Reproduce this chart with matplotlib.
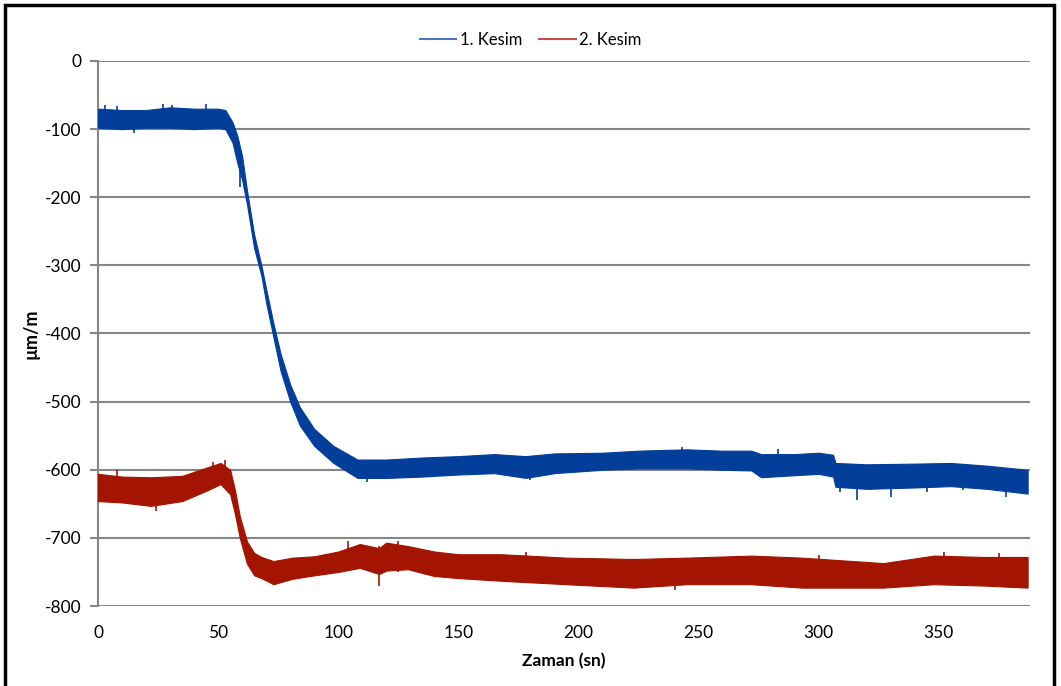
import matplotlib
matplotlib.use("Agg")
import matplotlib.pyplot as plt
from matplotlib.lines import Line2D
from matplotlib.patches import Rectangle

plt.rcParams['font.family'] = ['Lato', 'DejaVu Sans']
plt.rcParams['axes.unicode_minus'] = False

# series 1 (1. Kesim): time and upper/lower edges of the noisy band
t1 = [0, 10, 20, 30, 40, 50, 53, 56, 58, 60, 62, 65, 68, 70, 73, 76, 80, 84, 90, 98,
      108, 120, 135, 150, 165, 178, 190, 210, 225, 245, 260, 272, 276, 290, 300, 306,
      307, 320, 340, 355, 370, 387]
hi1 = [-70, -72, -72, -68, -70, -70, -72, -90, -110, -140, -190, -255, -300, -335, -385,
       -430, -475, -508, -540, -565, -585, -585, -582, -580, -577, -580, -576, -575, -572,
       -570, -572, -572, -577, -577, -575, -578, -590, -592, -591, -590, -594, -600]
lo1 = [-98, -100, -98, -98, -100, -98, -100, -120, -150, -175, -210, -275, -315, -355, -405,
       -455, -500, -535, -565, -590, -612, -612, -610, -607, -605, -612, -605, -600, -598,
       -598, -600, -601, -611, -608, -606, -610, -625, -628, -626, -624, -628, -635]

# series 2 (2. Kesim)
t2 = [0, 10, 22, 35, 45, 51, 55, 57, 59, 62, 65, 68, 73, 81, 90, 100, 109, 117, 120, 129,
      140, 150, 168, 195, 223, 245, 272, 293, 327, 348, 369, 387]
hi2 = [-606, -610, -611, -609, -597, -590, -600, -630, -668, -705, -722, -728, -734, -729,
       -727, -720, -709, -715, -707, -712, -720, -724, -724, -729, -731, -729, -726, -729,
       -737, -726, -728, -728]
lo2 = [-646, -648, -653, -646, -631, -621, -636, -665, -700, -738, -755, -759, -768, -760,
       -755, -750, -744, -753, -748, -746, -756, -759, -763, -768, -773, -768, -768, -773,
       -773, -768, -770, -773]

# single spikes that stick out of the band
spike_t1 = [3, 8, 15, 27, 31, 45, 59, 100, 112, 180, 243, 283, 309, 316, 322, 330, 345, 360, 378]
spike_top1 = [-64, -66, -92, -63, -64, -63, -150, -570, -600, -598, -566, -570, -600, -600,
              -600, -600, -610, -612, -615]
spike_bot1 = [-80, -80, -105, -80, -80, -80, -185, -585, -618, -615, -585, -585, -632, -645,
              -630, -640, -632, -630, -640]
spike_t2 = [8, 24, 48, 53, 104, 117, 125, 178, 240, 300, 318, 352, 375]
spike_top2 = [-600, -620, -588, -585, -705, -712, -704, -720, -740, -725, -745, -720, -722]
spike_bot2 = [-615, -660, -600, -600, -740, -770, -750, -745, -776, -745, -770, -740, -740]

labels = ["1. Kesim", "2. Kesim"]
blue = "#023e9a"
red = "#a31500"

fig = plt.figure(figsize=(10.61, 6.86), dpi=100)
ax = fig.add_axes([0.0924, 0.1166, 0.8784, 0.7945])

ax.fill_between(t1, lo1, hi1, color=blue, lw=0.8, edgecolor=blue, zorder=3)
ax.fill_between(t2, lo2, hi2, color=red, lw=0.8, edgecolor=red, zorder=3)
ax.vlines(spike_t1, spike_bot1, spike_top1, color=blue, lw=1.2, zorder=3)
ax.vlines(spike_t2, spike_bot2, spike_top2, color=red, lw=1.2, zorder=3)

ax.set_xlim(0, 388)
ax.set_ylim(-800, 0)
ax.set_xticks(range(0, 351, 50))
ax.set_yticks(range(-800, 1, 100))
ax.yaxis.grid(True, color="#868686", lw=1.5)
ax.set_axisbelow(True)
for s in ["top", "right", "bottom"]:
    ax.spines[s].set_visible(False)
ax.spines["left"].set_color("#868686")
ax.spines["left"].set_linewidth(1.5)
ax.tick_params(axis="y", length=6, width=1.5, color="#868686", labelsize=12.5, pad=6)
ax.tick_params(axis="x", length=0, labelsize=12.5, pad=14)

ax.set_xlabel("Zaman (sn)", fontsize=12.5, fontweight="bold", labelpad=8)
ax.set_ylabel("µm/m", fontsize=13, fontweight="bold", labelpad=4)

handles = [Line2D([], [], color="#4a74c4", lw=1.5), Line2D([], [], color="#c0504d", lw=1.5)]
fig.legend(handles, labels, loc="center", bbox_to_anchor=(0.5, 0.942), ncol=2,
           frameon=False, fontsize=12, handlelength=2.2, handletextpad=0.2, columnspacing=1.0)

# chart border
fig.patches.append(Rectangle((0.005, -0.02), 0.988, 1.013, transform=fig.transFigure,
                             fill=False, edgecolor="black", lw=2.5))

fig.savefig("out.png", dpi=100)
